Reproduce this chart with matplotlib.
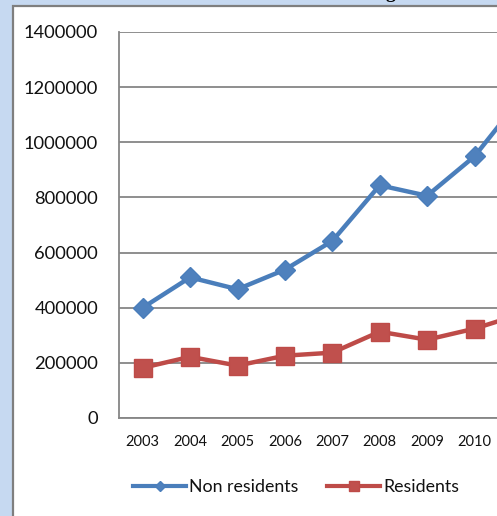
import matplotlib
matplotlib.use("Agg")
import matplotlib.pyplot as plt
from matplotlib.patches import Rectangle
import numpy as np

years = ["2003", "2004", "2005", "2006", "2007", "2008", "2009", "2010", "2011"]
non_residents = [400000, 510000, 467000, 538000, 642000, 844000, 806000, 949000, 1165000]
residents = [182000, 222000, 190000, 226000, 237000, 313000, 284000, 324000, 378000]

W, H = 497, 516
fig = plt.figure(figsize=(W / 100, H / 100), dpi=100)
fig.patch.set_facecolor("#c6d9f1")

# white chart area with grey frame, running off the right/bottom edge
fig.patches.append(Rectangle((13 / W, -0.2), 1.2, 1.2 - 6 / H,
                             transform=fig.transFigure, facecolor="white",
                             edgecolor="#7f7f7f", linewidth=1.6, zorder=-5))
# document title sits above the chart, only its tail shows
fig.text(386 / W, 1 + 1.5 / H, "g", family="Liberation Serif", weight="bold",
         fontsize=14, va="baseline", ha="left", color="black")

nx = len(years)
slot = 47.4
ax = fig.add_axes([119 / W, 1 - 418 / H, nx * slot / W, (418 - 32) / H])
ax.set_zorder(1)
ax.set_facecolor("none")
x = np.arange(nx)

ax.plot(x, non_residents, color="#4a7ebb", lw=3.2, marker="D", ms=10.5,
        mfc="#4f81bd", mec="#4a7ebb", mew=1, label="Non residents",
        solid_joinstyle="round", zorder=3)
ax.plot(x, residents, color="#be4b48", lw=3.2, marker="s", ms=13.5,
        mfc="#c0504d", mec="#be4b48", mew=1, label="Residents",
        solid_joinstyle="round", zorder=3)

ax.set_xlim(-0.5, nx - 0.5)
ax.set_ylim(0, 1400000)
ax.set_yticks(np.arange(0, 1400001, 200000))
ax.set_yticklabels([str(v) for v in range(0, 1400001, 200000)])
ax.set_xticks(x)
ax.set_xticklabels(years)
ax.yaxis.grid(True, color="#868686", lw=1.3)
ax.set_axisbelow(True)
for s in ["top", "right"]:
    ax.spines[s].set_visible(False)
for s in ["left", "bottom"]:
    ax.spines[s].set_color("#868686")
    ax.spines[s].set_linewidth(1.3)
ax.tick_params(axis="y", length=0, pad=15, labelsize=13.2, labelcolor="#111111")
ax.tick_params(axis="x", length=0, pad=12, labelsize=10.5, labelcolor="#111111")
for lab in ax.get_xticklabels() + ax.get_yticklabels():
    lab.set_family("Lato")
# last category label falls outside the canvas
ax.get_xticklabels()[-1].set_visible(False)

h1, = ax.plot([], [], color="#4a7ebb", lw=3.0, marker="D", ms=5, mfc="#4f81bd", mec="#4a7ebb")
h2, = ax.plot([], [], color="#be4b48", lw=3.0, marker="s", ms=7, mfc="#c0504d", mec="#be4b48")
fig.legend([h1, h2], ["Non residents", "Residents"], loc="center",
           bbox_to_anchor=(296 / W, 1 - 487 / H), ncol=2, frameon=False,
           prop={"family": "Lato", "size": 12.8}, handlelength=3.0,
           handletextpad=0.15, columnspacing=1.6, labelcolor="#111111")

fig.savefig("out.png", dpi=100, facecolor=fig.get_facecolor())
